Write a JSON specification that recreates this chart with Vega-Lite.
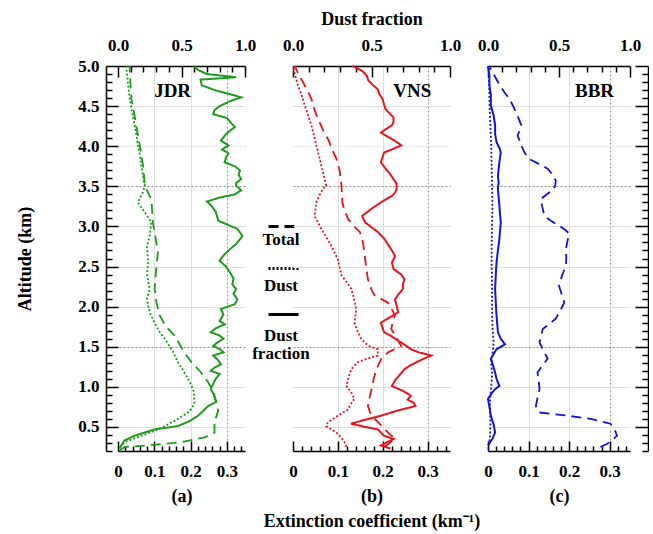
{
"$schema": "https://vega.github.io/schema/vega-lite/v6.json",
"padding": {"left": 16, "top": 10, "right": 0, "bottom": 4},
"bounds": "flush",
"spacing": 48,
"config": {
  "view": {"stroke": null},
  "font": "Liberation Serif",
  "axis": {"labelFont": "Liberation Serif", "labelFontWeight": "bold", "labelFontSize": 17, "labelColor": "black", "titleFont": "Liberation Serif", "titleFontWeight": "bold", "titleFontSize": 18, "titleColor": "black", "domainColor": "black", "tickColor": "black", "domainWidth": 1.5, "tickWidth": 1.5, "labelOverlap": false, "labelFlush": false, "labelBound": false}
},
"resolve": {"scale": {"strokeDash": "independent"}, "legend": {"strokeDash": "independent"}},
"datasets": {"d": [
{"p":"JDR","s":"Dust fraction","alt":5.00,"v":0.60},{"p":"JDR","s":"Dust fraction","alt":4.95,"v":0.63},{"p":"JDR","s":"Dust fraction","alt":4.90,"v":0.70},{"p":"JDR","s":"Dust fraction","alt":4.86,"v":0.93},{"p":"JDR","s":"Dust fraction","alt":4.83,"v":0.65},{"p":"JDR","s":"Dust fraction","alt":4.76,"v":0.66},{"p":"JDR","s":"Dust fraction","alt":4.70,"v":0.76},{"p":"JDR","s":"Dust fraction","alt":4.65,"v":0.88},{"p":"JDR","s":"Dust fraction","alt":4.61,"v":0.97},{"p":"JDR","s":"Dust fraction","alt":4.56,"v":0.88},{"p":"JDR","s":"Dust fraction","alt":4.50,"v":0.80},{"p":"JDR","s":"Dust fraction","alt":4.45,"v":0.76},{"p":"JDR","s":"Dust fraction","alt":4.40,"v":0.75},{"p":"JDR","s":"Dust fraction","alt":4.35,"v":0.86},{"p":"JDR","s":"Dust fraction","alt":4.29,"v":0.89},{"p":"JDR","s":"Dust fraction","alt":4.24,"v":0.92},{"p":"JDR","s":"Dust fraction","alt":4.19,"v":0.88},{"p":"JDR","s":"Dust fraction","alt":4.15,"v":0.85},{"p":"JDR","s":"Dust fraction","alt":4.07,"v":0.81},{"p":"JDR","s":"Dust fraction","alt":4.01,"v":0.87},{"p":"JDR","s":"Dust fraction","alt":3.96,"v":0.82},{"p":"JDR","s":"Dust fraction","alt":3.91,"v":0.87},{"p":"JDR","s":"Dust fraction","alt":3.86,"v":0.85},{"p":"JDR","s":"Dust fraction","alt":3.80,"v":0.84},{"p":"JDR","s":"Dust fraction","alt":3.75,"v":0.92},{"p":"JDR","s":"Dust fraction","alt":3.70,"v":0.96},{"p":"JDR","s":"Dust fraction","alt":3.64,"v":0.95},{"p":"JDR","s":"Dust fraction","alt":3.59,"v":0.97},{"p":"JDR","s":"Dust fraction","alt":3.54,"v":0.93},{"p":"JDR","s":"Dust fraction","alt":3.51,"v":0.93},{"p":"JDR","s":"Dust fraction","alt":3.45,"v":0.97},{"p":"JDR","s":"Dust fraction","alt":3.40,"v":0.92},{"p":"JDR","s":"Dust fraction","alt":3.36,"v":0.80},{"p":"JDR","s":"Dust fraction","alt":3.31,"v":0.70},{"p":"JDR","s":"Dust fraction","alt":3.25,"v":0.74},{"p":"JDR","s":"Dust fraction","alt":3.18,"v":0.77},{"p":"JDR","s":"Dust fraction","alt":3.07,"v":0.79},{"p":"JDR","s":"Dust fraction","alt":3.01,"v":0.88},{"p":"JDR","s":"Dust fraction","alt":2.97,"v":0.94},{"p":"JDR","s":"Dust fraction","alt":2.88,"v":0.98},{"p":"JDR","s":"Dust fraction","alt":2.82,"v":0.95},{"p":"JDR","s":"Dust fraction","alt":2.78,"v":0.93},{"p":"JDR","s":"Dust fraction","alt":2.70,"v":0.87},{"p":"JDR","s":"Dust fraction","alt":2.62,"v":0.82},{"p":"JDR","s":"Dust fraction","alt":2.57,"v":0.80},{"p":"JDR","s":"Dust fraction","alt":2.50,"v":0.85},{"p":"JDR","s":"Dust fraction","alt":2.43,"v":0.88},{"p":"JDR","s":"Dust fraction","alt":2.35,"v":0.91},{"p":"JDR","s":"Dust fraction","alt":2.28,"v":0.90},{"p":"JDR","s":"Dust fraction","alt":2.22,"v":0.93},{"p":"JDR","s":"Dust fraction","alt":2.16,"v":0.91},{"p":"JDR","s":"Dust fraction","alt":2.09,"v":0.94},{"p":"JDR","s":"Dust fraction","alt":2.03,"v":0.92},{"p":"JDR","s":"Dust fraction","alt":1.97,"v":0.81},{"p":"JDR","s":"Dust fraction","alt":1.90,"v":0.83},{"p":"JDR","s":"Dust fraction","alt":1.82,"v":0.80},{"p":"JDR","s":"Dust fraction","alt":1.78,"v":0.84},{"p":"JDR","s":"Dust fraction","alt":1.73,"v":0.77},{"p":"JDR","s":"Dust fraction","alt":1.68,"v":0.73},{"p":"JDR","s":"Dust fraction","alt":1.64,"v":0.80},{"p":"JDR","s":"Dust fraction","alt":1.60,"v":0.83},{"p":"JDR","s":"Dust fraction","alt":1.55,"v":0.78},{"p":"JDR","s":"Dust fraction","alt":1.51,"v":0.75},{"p":"JDR","s":"Dust fraction","alt":1.47,"v":0.80},{"p":"JDR","s":"Dust fraction","alt":1.43,"v":0.83},{"p":"JDR","s":"Dust fraction","alt":1.39,"v":0.75},{"p":"JDR","s":"Dust fraction","alt":1.33,"v":0.79},{"p":"JDR","s":"Dust fraction","alt":1.28,"v":0.81},{"p":"JDR","s":"Dust fraction","alt":1.24,"v":0.76},{"p":"JDR","s":"Dust fraction","alt":1.20,"v":0.73},{"p":"JDR","s":"Dust fraction","alt":1.16,"v":0.80},{"p":"JDR","s":"Dust fraction","alt":1.10,"v":0.77},{"p":"JDR","s":"Dust fraction","alt":1.04,"v":0.75},{"p":"JDR","s":"Dust fraction","alt":0.97,"v":0.73},{"p":"JDR","s":"Dust fraction","alt":0.92,"v":0.75},{"p":"JDR","s":"Dust fraction","alt":0.87,"v":0.76},{"p":"JDR","s":"Dust fraction","alt":0.81,"v":0.77},{"p":"JDR","s":"Dust fraction","alt":0.76,"v":0.71},{"p":"JDR","s":"Dust fraction","alt":0.70,"v":0.67},{"p":"JDR","s":"Dust fraction","alt":0.64,"v":0.63},{"p":"JDR","s":"Dust fraction","alt":0.57,"v":0.56},{"p":"JDR","s":"Dust fraction","alt":0.51,"v":0.47},{"p":"JDR","s":"Dust fraction","alt":0.47,"v":0.29},{"p":"JDR","s":"Dust fraction","alt":0.43,"v":0.21},{"p":"JDR","s":"Dust fraction","alt":0.39,"v":0.13},{"p":"JDR","s":"Dust fraction","alt":0.33,"v":0.05},{"p":"JDR","s":"Dust fraction","alt":0.28,"v":0.03},{"p":"JDR","s":"Dust fraction","alt":0.23,"v":0.01},
{"p":"JDR","s":"Total","alt":5.00,"v":0.032},{"p":"JDR","s":"Total","alt":4.80,"v":0.034},{"p":"JDR","s":"Total","alt":4.59,"v":0.037},{"p":"JDR","s":"Total","alt":4.40,"v":0.045},{"p":"JDR","s":"Total","alt":4.26,"v":0.050},{"p":"JDR","s":"Total","alt":4.01,"v":0.060},{"p":"JDR","s":"Total","alt":3.90,"v":0.064},{"p":"JDR","s":"Total","alt":3.76,"v":0.069},{"p":"JDR","s":"Total","alt":3.51,"v":0.074},{"p":"JDR","s":"Total","alt":3.40,"v":0.085},{"p":"JDR","s":"Total","alt":3.34,"v":0.092},{"p":"JDR","s":"Total","alt":3.20,"v":0.094},{"p":"JDR","s":"Total","alt":3.05,"v":0.096},{"p":"JDR","s":"Total","alt":2.90,"v":0.102},{"p":"JDR","s":"Total","alt":2.68,"v":0.110},{"p":"JDR","s":"Total","alt":2.50,"v":0.106},{"p":"JDR","s":"Total","alt":2.35,"v":0.103},{"p":"JDR","s":"Total","alt":2.22,"v":0.101},{"p":"JDR","s":"Total","alt":2.05,"v":0.106},{"p":"JDR","s":"Total","alt":1.89,"v":0.115},{"p":"JDR","s":"Total","alt":1.75,"v":0.132},{"p":"JDR","s":"Total","alt":1.64,"v":0.156},{"p":"JDR","s":"Total","alt":1.45,"v":0.180},{"p":"JDR","s":"Total","alt":1.31,"v":0.202},{"p":"JDR","s":"Total","alt":1.20,"v":0.225},{"p":"JDR","s":"Total","alt":1.06,"v":0.248},{"p":"JDR","s":"Total","alt":0.95,"v":0.262},{"p":"JDR","s":"Total","alt":0.81,"v":0.271},{"p":"JDR","s":"Total","alt":0.70,"v":0.276},{"p":"JDR","s":"Total","alt":0.56,"v":0.266},{"p":"JDR","s":"Total","alt":0.43,"v":0.266},{"p":"JDR","s":"Total","alt":0.37,"v":0.239},{"p":"JDR","s":"Total","alt":0.31,"v":0.174},{"p":"JDR","s":"Total","alt":0.27,"v":0.083},{"p":"JDR","s":"Total","alt":0.25,"v":0.018},{"p":"JDR","s":"Total","alt":0.21,"v":0.005},
{"p":"JDR","s":"Dust","alt":5.00,"v":0.023},{"p":"JDR","s":"Dust","alt":4.80,"v":0.027},{"p":"JDR","s":"Dust","alt":4.59,"v":0.032},{"p":"JDR","s":"Dust","alt":4.40,"v":0.040},{"p":"JDR","s":"Dust","alt":4.26,"v":0.046},{"p":"JDR","s":"Dust","alt":4.10,"v":0.052},{"p":"JDR","s":"Dust","alt":4.01,"v":0.055},{"p":"JDR","s":"Dust","alt":3.90,"v":0.060},{"p":"JDR","s":"Dust","alt":3.76,"v":0.064},{"p":"JDR","s":"Dust","alt":3.60,"v":0.070},{"p":"JDR","s":"Dust","alt":3.51,"v":0.074},{"p":"JDR","s":"Dust","alt":3.42,"v":0.068},{"p":"JDR","s":"Dust","alt":3.30,"v":0.055},{"p":"JDR","s":"Dust","alt":3.20,"v":0.070},{"p":"JDR","s":"Dust","alt":3.10,"v":0.085},{"p":"JDR","s":"Dust","alt":3.05,"v":0.092},{"p":"JDR","s":"Dust","alt":2.90,"v":0.088},{"p":"JDR","s":"Dust","alt":2.75,"v":0.080},{"p":"JDR","s":"Dust","alt":2.55,"v":0.083},{"p":"JDR","s":"Dust","alt":2.40,"v":0.080},{"p":"JDR","s":"Dust","alt":2.22,"v":0.087},{"p":"JDR","s":"Dust","alt":2.10,"v":0.080},{"p":"JDR","s":"Dust","alt":2.01,"v":0.083},{"p":"JDR","s":"Dust","alt":1.90,"v":0.090},{"p":"JDR","s":"Dust","alt":1.80,"v":0.101},{"p":"JDR","s":"Dust","alt":1.70,"v":0.112},{"p":"JDR","s":"Dust","alt":1.60,"v":0.129},{"p":"JDR","s":"Dust","alt":1.45,"v":0.150},{"p":"JDR","s":"Dust","alt":1.31,"v":0.165},{"p":"JDR","s":"Dust","alt":1.20,"v":0.180},{"p":"JDR","s":"Dust","alt":1.06,"v":0.198},{"p":"JDR","s":"Dust","alt":0.95,"v":0.208},{"p":"JDR","s":"Dust","alt":0.81,"v":0.211},{"p":"JDR","s":"Dust","alt":0.74,"v":0.205},{"p":"JDR","s":"Dust","alt":0.68,"v":0.193},{"p":"JDR","s":"Dust","alt":0.60,"v":0.165},{"p":"JDR","s":"Dust","alt":0.51,"v":0.129},{"p":"JDR","s":"Dust","alt":0.45,"v":0.100},{"p":"JDR","s":"Dust","alt":0.39,"v":0.064},{"p":"JDR","s":"Dust","alt":0.31,"v":0.018},{"p":"JDR","s":"Dust","alt":0.25,"v":0.005},
{"p":"VNS","s":"Dust fraction","alt":5.00,"v":0.38},{"p":"VNS","s":"Dust fraction","alt":4.94,"v":0.44},{"p":"VNS","s":"Dust fraction","alt":4.88,"v":0.47},{"p":"VNS","s":"Dust fraction","alt":4.82,"v":0.48},{"p":"VNS","s":"Dust fraction","alt":4.76,"v":0.51},{"p":"VNS","s":"Dust fraction","alt":4.71,"v":0.54},{"p":"VNS","s":"Dust fraction","alt":4.65,"v":0.55},{"p":"VNS","s":"Dust fraction","alt":4.59,"v":0.57},{"p":"VNS","s":"Dust fraction","alt":4.52,"v":0.58},{"p":"VNS","s":"Dust fraction","alt":4.46,"v":0.59},{"p":"VNS","s":"Dust fraction","alt":4.40,"v":0.62},{"p":"VNS","s":"Dust fraction","alt":4.36,"v":0.64},{"p":"VNS","s":"Dust fraction","alt":4.30,"v":0.64},{"p":"VNS","s":"Dust fraction","alt":4.26,"v":0.63},{"p":"VNS","s":"Dust fraction","alt":4.21,"v":0.59},{"p":"VNS","s":"Dust fraction","alt":4.17,"v":0.56},{"p":"VNS","s":"Dust fraction","alt":4.10,"v":0.62},{"p":"VNS","s":"Dust fraction","alt":4.04,"v":0.67},{"p":"VNS","s":"Dust fraction","alt":4.01,"v":0.69},{"p":"VNS","s":"Dust fraction","alt":3.96,"v":0.63},{"p":"VNS","s":"Dust fraction","alt":3.92,"v":0.58},{"p":"VNS","s":"Dust fraction","alt":3.86,"v":0.57},{"p":"VNS","s":"Dust fraction","alt":3.80,"v":0.56},{"p":"VNS","s":"Dust fraction","alt":3.72,"v":0.59},{"p":"VNS","s":"Dust fraction","alt":3.65,"v":0.62},{"p":"VNS","s":"Dust fraction","alt":3.59,"v":0.64},{"p":"VNS","s":"Dust fraction","alt":3.53,"v":0.66},{"p":"VNS","s":"Dust fraction","alt":3.47,"v":0.66},{"p":"VNS","s":"Dust fraction","alt":3.42,"v":0.65},{"p":"VNS","s":"Dust fraction","alt":3.38,"v":0.63},{"p":"VNS","s":"Dust fraction","alt":3.30,"v":0.56},{"p":"VNS","s":"Dust fraction","alt":3.22,"v":0.50},{"p":"VNS","s":"Dust fraction","alt":3.13,"v":0.44},{"p":"VNS","s":"Dust fraction","alt":3.05,"v":0.46},{"p":"VNS","s":"Dust fraction","alt":2.99,"v":0.50},{"p":"VNS","s":"Dust fraction","alt":2.93,"v":0.54},{"p":"VNS","s":"Dust fraction","alt":2.85,"v":0.58},{"p":"VNS","s":"Dust fraction","alt":2.76,"v":0.61},{"p":"VNS","s":"Dust fraction","alt":2.70,"v":0.63},{"p":"VNS","s":"Dust fraction","alt":2.63,"v":0.65},{"p":"VNS","s":"Dust fraction","alt":2.55,"v":0.63},{"p":"VNS","s":"Dust fraction","alt":2.47,"v":0.64},{"p":"VNS","s":"Dust fraction","alt":2.40,"v":0.69},{"p":"VNS","s":"Dust fraction","alt":2.34,"v":0.71},{"p":"VNS","s":"Dust fraction","alt":2.28,"v":0.70},{"p":"VNS","s":"Dust fraction","alt":2.22,"v":0.70},{"p":"VNS","s":"Dust fraction","alt":2.15,"v":0.67},{"p":"VNS","s":"Dust fraction","alt":2.09,"v":0.65},{"p":"VNS","s":"Dust fraction","alt":2.01,"v":0.66},{"p":"VNS","s":"Dust fraction","alt":1.93,"v":0.67},{"p":"VNS","s":"Dust fraction","alt":1.87,"v":0.62},{"p":"VNS","s":"Dust fraction","alt":1.80,"v":0.56},{"p":"VNS","s":"Dust fraction","alt":1.74,"v":0.57},{"p":"VNS","s":"Dust fraction","alt":1.68,"v":0.58},{"p":"VNS","s":"Dust fraction","alt":1.64,"v":0.62},{"p":"VNS","s":"Dust fraction","alt":1.60,"v":0.65},{"p":"VNS","s":"Dust fraction","alt":1.54,"v":0.70},{"p":"VNS","s":"Dust fraction","alt":1.47,"v":0.75},{"p":"VNS","s":"Dust fraction","alt":1.43,"v":0.80},{"p":"VNS","s":"Dust fraction","alt":1.39,"v":0.88},{"p":"VNS","s":"Dust fraction","alt":1.33,"v":0.81},{"p":"VNS","s":"Dust fraction","alt":1.27,"v":0.75},{"p":"VNS","s":"Dust fraction","alt":1.22,"v":0.71},{"p":"VNS","s":"Dust fraction","alt":1.15,"v":0.68},{"p":"VNS","s":"Dust fraction","alt":1.08,"v":0.65},{"p":"VNS","s":"Dust fraction","alt":1.01,"v":0.63},{"p":"VNS","s":"Dust fraction","alt":0.95,"v":0.70},{"p":"VNS","s":"Dust fraction","alt":0.89,"v":0.75},{"p":"VNS","s":"Dust fraction","alt":0.84,"v":0.73},{"p":"VNS","s":"Dust fraction","alt":0.80,"v":0.77},{"p":"VNS","s":"Dust fraction","alt":0.76,"v":0.78},{"p":"VNS","s":"Dust fraction","alt":0.70,"v":0.66},{"p":"VNS","s":"Dust fraction","alt":0.64,"v":0.56},{"p":"VNS","s":"Dust fraction","alt":0.59,"v":0.46},{"p":"VNS","s":"Dust fraction","alt":0.54,"v":0.37},{"p":"VNS","s":"Dust fraction","alt":0.50,"v":0.46},{"p":"VNS","s":"Dust fraction","alt":0.47,"v":0.54},{"p":"VNS","s":"Dust fraction","alt":0.43,"v":0.56},{"p":"VNS","s":"Dust fraction","alt":0.39,"v":0.58},{"p":"VNS","s":"Dust fraction","alt":0.35,"v":0.64},{"p":"VNS","s":"Dust fraction","alt":0.31,"v":0.60},{"p":"VNS","s":"Dust fraction","alt":0.27,"v":0.56},{"p":"VNS","s":"Dust fraction","alt":0.23,"v":0.62},
{"p":"VNS","s":"Total","alt":5.00,"v":0.004},{"p":"VNS","s":"Total","alt":4.90,"v":0.012},{"p":"VNS","s":"Total","alt":4.80,"v":0.022},{"p":"VNS","s":"Total","alt":4.70,"v":0.032},{"p":"VNS","s":"Total","alt":4.59,"v":0.041},{"p":"VNS","s":"Total","alt":4.45,"v":0.048},{"p":"VNS","s":"Total","alt":4.34,"v":0.056},{"p":"VNS","s":"Total","alt":4.20,"v":0.067},{"p":"VNS","s":"Total","alt":4.09,"v":0.078},{"p":"VNS","s":"Total","alt":3.95,"v":0.088},{"p":"VNS","s":"Total","alt":3.84,"v":0.097},{"p":"VNS","s":"Total","alt":3.70,"v":0.104},{"p":"VNS","s":"Total","alt":3.51,"v":0.108},{"p":"VNS","s":"Total","alt":3.30,"v":0.110},{"p":"VNS","s":"Total","alt":3.20,"v":0.115},{"p":"VNS","s":"Total","alt":3.09,"v":0.123},{"p":"VNS","s":"Total","alt":2.98,"v":0.140},{"p":"VNS","s":"Total","alt":2.93,"v":0.149},{"p":"VNS","s":"Total","alt":2.80,"v":0.156},{"p":"VNS","s":"Total","alt":2.63,"v":0.160},{"p":"VNS","s":"Total","alt":2.50,"v":0.163},{"p":"VNS","s":"Total","alt":2.34,"v":0.167},{"p":"VNS","s":"Total","alt":2.20,"v":0.176},{"p":"VNS","s":"Total","alt":2.14,"v":0.182},{"p":"VNS","s":"Total","alt":2.05,"v":0.212},{"p":"VNS","s":"Total","alt":1.95,"v":0.222},{"p":"VNS","s":"Total","alt":1.89,"v":0.227},{"p":"VNS","s":"Total","alt":1.80,"v":0.222},{"p":"VNS","s":"Total","alt":1.72,"v":0.219},{"p":"VNS","s":"Total","alt":1.62,"v":0.230},{"p":"VNS","s":"Total","alt":1.51,"v":0.241},{"p":"VNS","s":"Total","alt":1.43,"v":0.212},{"p":"VNS","s":"Total","alt":1.35,"v":0.197},{"p":"VNS","s":"Total","alt":1.22,"v":0.186},{"p":"VNS","s":"Total","alt":1.10,"v":0.180},{"p":"VNS","s":"Total","alt":0.97,"v":0.175},{"p":"VNS","s":"Total","alt":0.85,"v":0.170},{"p":"VNS","s":"Total","alt":0.76,"v":0.167},{"p":"VNS","s":"Total","alt":0.68,"v":0.172},{"p":"VNS","s":"Total","alt":0.60,"v":0.182},{"p":"VNS","s":"Total","alt":0.50,"v":0.200},{"p":"VNS","s":"Total","alt":0.43,"v":0.212},{"p":"VNS","s":"Total","alt":0.35,"v":0.227},{"p":"VNS","s":"Total","alt":0.30,"v":0.215},{"p":"VNS","s":"Total","alt":0.25,"v":0.204},
{"p":"VNS","s":"Dust","alt":5.00,"v":0.000},{"p":"VNS","s":"Dust","alt":4.88,"v":0.005},{"p":"VNS","s":"Dust","alt":4.76,"v":0.011},{"p":"VNS","s":"Dust","alt":4.64,"v":0.019},{"p":"VNS","s":"Dust","alt":4.51,"v":0.026},{"p":"VNS","s":"Dust","alt":4.38,"v":0.034},{"p":"VNS","s":"Dust","alt":4.26,"v":0.041},{"p":"VNS","s":"Dust","alt":4.13,"v":0.047},{"p":"VNS","s":"Dust","alt":4.01,"v":0.052},{"p":"VNS","s":"Dust","alt":3.88,"v":0.058},{"p":"VNS","s":"Dust","alt":3.76,"v":0.063},{"p":"VNS","s":"Dust","alt":3.63,"v":0.069},{"p":"VNS","s":"Dust","alt":3.51,"v":0.074},{"p":"VNS","s":"Dust","alt":3.47,"v":0.067},{"p":"VNS","s":"Dust","alt":3.38,"v":0.058},{"p":"VNS","s":"Dust","alt":3.30,"v":0.052},{"p":"VNS","s":"Dust","alt":3.13,"v":0.048},{"p":"VNS","s":"Dust","alt":2.97,"v":0.063},{"p":"VNS","s":"Dust","alt":2.86,"v":0.075},{"p":"VNS","s":"Dust","alt":2.76,"v":0.085},{"p":"VNS","s":"Dust","alt":2.67,"v":0.093},{"p":"VNS","s":"Dust","alt":2.59,"v":0.100},{"p":"VNS","s":"Dust","alt":2.49,"v":0.104},{"p":"VNS","s":"Dust","alt":2.39,"v":0.108},{"p":"VNS","s":"Dust","alt":2.30,"v":0.120},{"p":"VNS","s":"Dust","alt":2.22,"v":0.130},{"p":"VNS","s":"Dust","alt":2.10,"v":0.136},{"p":"VNS","s":"Dust","alt":1.97,"v":0.141},{"p":"VNS","s":"Dust","alt":1.88,"v":0.139},{"p":"VNS","s":"Dust","alt":1.80,"v":0.137},{"p":"VNS","s":"Dust","alt":1.68,"v":0.145},{"p":"VNS","s":"Dust","alt":1.60,"v":0.152},{"p":"VNS","s":"Dust","alt":1.55,"v":0.160},{"p":"VNS","s":"Dust","alt":1.50,"v":0.172},{"p":"VNS","s":"Dust","alt":1.47,"v":0.189},{"p":"VNS","s":"Dust","alt":1.39,"v":0.189},{"p":"VNS","s":"Dust","alt":1.35,"v":0.165},{"p":"VNS","s":"Dust","alt":1.31,"v":0.145},{"p":"VNS","s":"Dust","alt":1.22,"v":0.130},{"p":"VNS","s":"Dust","alt":1.12,"v":0.124},{"p":"VNS","s":"Dust","alt":1.01,"v":0.119},{"p":"VNS","s":"Dust","alt":0.93,"v":0.130},{"p":"VNS","s":"Dust","alt":0.85,"v":0.137},{"p":"VNS","s":"Dust","alt":0.78,"v":0.128},{"p":"VNS","s":"Dust","alt":0.72,"v":0.123},{"p":"VNS","s":"Dust","alt":0.64,"v":0.100},{"p":"VNS","s":"Dust","alt":0.56,"v":0.078},{"p":"VNS","s":"Dust","alt":0.51,"v":0.074},{"p":"VNS","s":"Dust","alt":0.47,"v":0.085},{"p":"VNS","s":"Dust","alt":0.43,"v":0.097},{"p":"VNS","s":"Dust","alt":0.37,"v":0.107},{"p":"VNS","s":"Dust","alt":0.31,"v":0.115},{"p":"VNS","s":"Dust","alt":0.25,"v":0.119},
{"p":"BBR","s":"Dust fraction","alt":5.00,"v":0.00},{"p":"BBR","s":"Dust fraction","alt":4.88,"v":0.01},{"p":"BBR","s":"Dust fraction","alt":4.76,"v":0.01},{"p":"BBR","s":"Dust fraction","alt":4.64,"v":0.02},{"p":"BBR","s":"Dust fraction","alt":4.51,"v":0.02},{"p":"BBR","s":"Dust fraction","alt":4.38,"v":0.04},{"p":"BBR","s":"Dust fraction","alt":4.26,"v":0.05},{"p":"BBR","s":"Dust fraction","alt":4.15,"v":0.05},{"p":"BBR","s":"Dust fraction","alt":4.05,"v":0.06},{"p":"BBR","s":"Dust fraction","alt":3.98,"v":0.08},{"p":"BBR","s":"Dust fraction","alt":3.92,"v":0.09},{"p":"BBR","s":"Dust fraction","alt":3.86,"v":0.085},{"p":"BBR","s":"Dust fraction","alt":3.80,"v":0.08},{"p":"BBR","s":"Dust fraction","alt":3.72,"v":0.075},{"p":"BBR","s":"Dust fraction","alt":3.63,"v":0.07},{"p":"BBR","s":"Dust fraction","alt":3.55,"v":0.075},{"p":"BBR","s":"Dust fraction","alt":3.47,"v":0.07},{"p":"BBR","s":"Dust fraction","alt":3.36,"v":0.075},{"p":"BBR","s":"Dust fraction","alt":3.26,"v":0.08},{"p":"BBR","s":"Dust fraction","alt":3.15,"v":0.085},{"p":"BBR","s":"Dust fraction","alt":3.05,"v":0.09},{"p":"BBR","s":"Dust fraction","alt":2.95,"v":0.085},{"p":"BBR","s":"Dust fraction","alt":2.84,"v":0.08},{"p":"BBR","s":"Dust fraction","alt":2.70,"v":0.07},{"p":"BBR","s":"Dust fraction","alt":2.55,"v":0.06},{"p":"BBR","s":"Dust fraction","alt":2.40,"v":0.055},{"p":"BBR","s":"Dust fraction","alt":2.22,"v":0.05},{"p":"BBR","s":"Dust fraction","alt":2.05,"v":0.055},{"p":"BBR","s":"Dust fraction","alt":1.89,"v":0.06},{"p":"BBR","s":"Dust fraction","alt":1.78,"v":0.065},{"p":"BBR","s":"Dust fraction","alt":1.68,"v":0.07},{"p":"BBR","s":"Dust fraction","alt":1.60,"v":0.09},{"p":"BBR","s":"Dust fraction","alt":1.53,"v":0.12},{"p":"BBR","s":"Dust fraction","alt":1.47,"v":0.06},{"p":"BBR","s":"Dust fraction","alt":1.41,"v":0.04},{"p":"BBR","s":"Dust fraction","alt":1.35,"v":0.02},{"p":"BBR","s":"Dust fraction","alt":1.27,"v":0.035},{"p":"BBR","s":"Dust fraction","alt":1.18,"v":0.05},{"p":"BBR","s":"Dust fraction","alt":1.10,"v":0.06},{"p":"BBR","s":"Dust fraction","alt":1.01,"v":0.08},{"p":"BBR","s":"Dust fraction","alt":0.97,"v":0.05},{"p":"BBR","s":"Dust fraction","alt":0.93,"v":0.03},{"p":"BBR","s":"Dust fraction","alt":0.85,"v":0.00},{"p":"BBR","s":"Dust fraction","alt":0.75,"v":0.01},{"p":"BBR","s":"Dust fraction","alt":0.64,"v":0.02},{"p":"BBR","s":"Dust fraction","alt":0.53,"v":0.04},{"p":"BBR","s":"Dust fraction","alt":0.43,"v":0.05},{"p":"BBR","s":"Dust fraction","alt":0.35,"v":0.03},{"p":"BBR","s":"Dust fraction","alt":0.27,"v":0.00},
{"p":"BBR","s":"Total","alt":4.98,"v":0.005},{"p":"BBR","s":"Total","alt":4.86,"v":0.018},{"p":"BBR","s":"Total","alt":4.76,"v":0.029},{"p":"BBR","s":"Total","alt":4.66,"v":0.042},{"p":"BBR","s":"Total","alt":4.59,"v":0.053},{"p":"BBR","s":"Total","alt":4.50,"v":0.062},{"p":"BBR","s":"Total","alt":4.42,"v":0.069},{"p":"BBR","s":"Total","alt":4.34,"v":0.076},{"p":"BBR","s":"Total","alt":4.26,"v":0.082},{"p":"BBR","s":"Total","alt":4.20,"v":0.078},{"p":"BBR","s":"Total","alt":4.13,"v":0.073},{"p":"BBR","s":"Total","alt":4.07,"v":0.078},{"p":"BBR","s":"Total","alt":4.01,"v":0.082},{"p":"BBR","s":"Total","alt":3.92,"v":0.090},{"p":"BBR","s":"Total","alt":3.84,"v":0.102},{"p":"BBR","s":"Total","alt":3.78,"v":0.125},{"p":"BBR","s":"Total","alt":3.72,"v":0.147},{"p":"BBR","s":"Total","alt":3.64,"v":0.160},{"p":"BBR","s":"Total","alt":3.57,"v":0.167},{"p":"BBR","s":"Total","alt":3.52,"v":0.166},{"p":"BBR","s":"Total","alt":3.47,"v":0.163},{"p":"BBR","s":"Total","alt":3.42,"v":0.150},{"p":"BBR","s":"Total","alt":3.38,"v":0.140},{"p":"BBR","s":"Total","alt":3.34,"v":0.130},{"p":"BBR","s":"Total","alt":3.24,"v":0.134},{"p":"BBR","s":"Total","alt":3.13,"v":0.139},{"p":"BBR","s":"Total","alt":3.07,"v":0.155},{"p":"BBR","s":"Total","alt":3.01,"v":0.175},{"p":"BBR","s":"Total","alt":2.95,"v":0.192},{"p":"BBR","s":"Total","alt":2.91,"v":0.200},{"p":"BBR","s":"Total","alt":2.82,"v":0.196},{"p":"BBR","s":"Total","alt":2.72,"v":0.192},{"p":"BBR","s":"Total","alt":2.61,"v":0.193},{"p":"BBR","s":"Total","alt":2.51,"v":0.192},{"p":"BBR","s":"Total","alt":2.38,"v":0.182},{"p":"BBR","s":"Total","alt":2.26,"v":0.175},{"p":"BBR","s":"Total","alt":2.15,"v":0.182},{"p":"BBR","s":"Total","alt":2.05,"v":0.188},{"p":"BBR","s":"Total","alt":1.95,"v":0.178},{"p":"BBR","s":"Total","alt":1.85,"v":0.167},{"p":"BBR","s":"Total","alt":1.78,"v":0.150},{"p":"BBR","s":"Total","alt":1.72,"v":0.135},{"p":"BBR","s":"Total","alt":1.62,"v":0.130},{"p":"BBR","s":"Total","alt":1.55,"v":0.127},{"p":"BBR","s":"Total","alt":1.45,"v":0.137},{"p":"BBR","s":"Total","alt":1.35,"v":0.147},{"p":"BBR","s":"Total","alt":1.26,"v":0.133},{"p":"BBR","s":"Total","alt":1.18,"v":0.122},{"p":"BBR","s":"Total","alt":1.07,"v":0.125},{"p":"BBR","s":"Total","alt":0.97,"v":0.127},{"p":"BBR","s":"Total","alt":0.86,"v":0.122},{"p":"BBR","s":"Total","alt":0.76,"v":0.118},{"p":"BBR","s":"Total","alt":0.68,"v":0.127},{"p":"BBR","s":"Total","alt":0.64,"v":0.196},{"p":"BBR","s":"Total","alt":0.60,"v":0.253},{"p":"BBR","s":"Total","alt":0.54,"v":0.302},{"p":"BBR","s":"Total","alt":0.47,"v":0.312},{"p":"BBR","s":"Total","alt":0.39,"v":0.318},{"p":"BBR","s":"Total","alt":0.33,"v":0.305},{"p":"BBR","s":"Total","alt":0.29,"v":0.294},{"p":"BBR","s":"Total","alt":0.25,"v":0.277},
{"p":"BBR","s":"Dust","alt":5.00,"v":0.002},{"p":"BBR","s":"Dust","alt":4.75,"v":0.003},{"p":"BBR","s":"Dust","alt":4.50,"v":0.004},{"p":"BBR","s":"Dust","alt":4.25,"v":0.006},{"p":"BBR","s":"Dust","alt":4.00,"v":0.008},{"p":"BBR","s":"Dust","alt":3.75,"v":0.009},{"p":"BBR","s":"Dust","alt":3.50,"v":0.010},{"p":"BBR","s":"Dust","alt":3.25,"v":0.011},{"p":"BBR","s":"Dust","alt":3.00,"v":0.010},{"p":"BBR","s":"Dust","alt":2.75,"v":0.009},{"p":"BBR","s":"Dust","alt":2.50,"v":0.009},{"p":"BBR","s":"Dust","alt":2.25,"v":0.010},{"p":"BBR","s":"Dust","alt":2.00,"v":0.010},{"p":"BBR","s":"Dust","alt":1.75,"v":0.011},{"p":"BBR","s":"Dust","alt":1.55,"v":0.014},{"p":"BBR","s":"Dust","alt":1.45,"v":0.012},{"p":"BBR","s":"Dust","alt":1.30,"v":0.008},{"p":"BBR","s":"Dust","alt":1.15,"v":0.010},{"p":"BBR","s":"Dust","alt":1.00,"v":0.008},{"p":"BBR","s":"Dust","alt":0.85,"v":0.005},{"p":"BBR","s":"Dust","alt":0.70,"v":0.005},{"p":"BBR","s":"Dust","alt":0.55,"v":0.006},{"p":"BBR","s":"Dust","alt":0.40,"v":0.005},{"p":"BBR","s":"Dust","alt":0.30,"v":0.003},{"p":"BBR","s":"Dust","alt":0.22,"v":0.001}
]},
"hconcat": [
 {
  "width": 127, "height": 385,
  "resolve": {"scale": {"x": "independent"}, "axis": {"x": "independent", "y": "independent"}},
  "layer": [
   {
    "data": {"name": "d"},
    "transform": [{"filter": "datum.p == 'JDR' && datum.s != 'Dust fraction'"}],
    "mark": {"type": "line", "color": "#1e9a1e", "strokeWidth": 1.8},
    "encoding": {
     "x": {"field": "v", "type": "quantitative", "scale": {"domain": [0, 0.35], "nice": false, "zero": false},
       "axis": {"orient": "bottom", "values": [0,0.02,0.04,0.06,0.08,0.1,0.12,0.14,0.16,0.18,0.2,0.22,0.24,0.26,0.28,0.3,0.32,0.34],
         "labelOverlap": false,
         "labelExpr": "abs(datum.value*10 - round(datum.value*10)) < 0.01 ? (datum.value == 0 ? '0' : format(datum.value, '.1f')) : ''",
         "tickSize": {"condition": {"test": "abs(datum.value*10 - round(datum.value*10)) < 0.01", "value": -10}, "value": -5},
         "labelPadding": 22, "title": "(a)", "titlePadding": 3,
         "grid": true, "gridColor": {"condition": {"test": "abs(datum.value - 0.3) < 0.001", "value": "#999999"}, "value": "#dddddd"},
         "gridDash": {"condition": {"test": "abs(datum.value - 0.3) < 0.001", "value": [2, 2]}, "value": []},
         "gridOpacity": {"condition": {"test": "datum.value > 0.05 && abs(datum.value*10 - round(datum.value*10)) < 0.01", "value": 1}, "value": 0}}},
     "y": {"field": "alt", "type": "quantitative", "scale": {"domain": [0.2, 5.0], "nice": false, "zero": false},
       "axis": {"orient": "left", "offset": 12, "labelOverlap": false, "grid": false,
         "values": [0.2,0.3,0.4,0.5,0.6,0.7,0.8,0.9,1.0,1.1,1.2,1.3,1.4,1.5,1.6,1.7,1.8,1.9,2.0,2.1,2.2,2.3,2.4,2.5,2.6,2.7,2.8,2.9,3.0,3.1,3.2,3.3,3.4,3.5,3.6,3.7,3.8,3.9,4.0,4.1,4.2,4.3,4.4,4.5,4.6,4.7,4.8,4.9,5.0],
         "labelExpr": "abs(datum.value*2 - round(datum.value*2)) < 0.01 ? format(datum.value, '.1f') : ''",
         "tickSize": {"condition": {"test": "abs(datum.value*2 - round(datum.value*2)) < 0.01", "value": -12}, "value": -6},
         "labelPadding": 19, "title": "Altitude (km)", "titlePadding": 43}},
     "strokeDash": {"field": "s", "type": "nominal",
       "scale": {"domain": ["Total", "Dust", "Dust fraction"], "range": [[10, 6], [2, 2], [1, 0]]},
       "legend": {"orient": "none", "legendX": 149, "legendY": 144, "title": null,
         "symbolType": "stroke", "symbolSize": 900, "symbolStrokeWidth": 3, "symbolStrokeColor": "black",
         "labelFont": "Liberation Serif", "labelFontWeight": "bold", "labelFontSize": 17, "labelColor": "black",
         "labelExpr": "datum.label == 'Dust fraction' ? ['Dust', 'fraction'] : datum.label",
         "rowPadding": 4,
         "encode": {"labels": {"update": {"align": {"value": "center"}, "dx": {"value": -23}, "dy": {"signal": "datum.label == 'Dust fraction' ? 21 : (datum.label == 'Dust' ? 17 : 13)"}, "lineHeight": {"value": 18}}}}}},
     "order": {"field": "alt", "type": "quantitative"}
    }
   },
   {
    "data": {"name": "d"},
    "transform": [{"filter": "datum.p == 'JDR' && datum.s == 'Dust fraction'"}],
    "mark": {"type": "line", "color": "#1e9a1e", "strokeWidth": 2},
    "encoding": {
     "x": {"field": "v", "type": "quantitative", "scale": {"domain": [0, 1], "nice": false, "zero": false},
       "axis": {"orient": "top", "values": [0,0.1,0.2,0.3,0.4,0.5,0.6,0.7,0.8,0.9,1.0], "labelOverlap": false,
         "labelExpr": "abs(datum.value*2 - round(datum.value*2)) < 0.01 ? format(datum.value, '.1f') : ''",
         "tickSize": {"condition": {"test": "abs(datum.value*2 - round(datum.value*2)) < 0.01", "value": -11}, "value": -6},
         "labelPadding": 23, "title": null, "grid": false}},
     "y": {"field": "alt", "type": "quantitative", "scale": {"domain": [0.2, 5.0], "nice": false, "zero": false},
       "axis": {"orient": "right", "domain": false, "ticks": false, "labels": false, "title": null,
         "values": [0.5,1.0,1.5,2.0,2.5,3.0,3.5,4.0,4.5],
         "grid": true,
         "gridColor": {"condition": {"test": "abs(datum.value - 1.5) < 0.01 || abs(datum.value - 3.5) < 0.01", "value": "#888888"}, "value": "#dddddd"},
         "gridDash": {"condition": {"test": "abs(datum.value - 1.5) < 0.01 || abs(datum.value - 3.5) < 0.01 || abs(datum.value - 4.0) < 0.01", "value": [2, 2]}, "value": []}}},
     "strokeDash": {"field": "s", "type": "nominal"},
     "order": {"field": "alt", "type": "quantitative"}
    }
   },
   {
    "data": {"values": [{}]},
    "mark": {"type": "text", "font": "Liberation Serif", "fontWeight": "bold", "fontSize": 19, "color": "black"},
    "encoding": {
     "x": {"datum": 0.43, "type": "quantitative", "scale": {"domain": [0, 1], "nice": false, "zero": false}, "axis": null},
     "y": {"datum": 4.69, "type": "quantitative", "axis": null},
     "text": {"value": "JDR"}
    }
   }
  ]
 },
 {
  "spacing": 38, "bounds": "flush",
  "resolve": {"scale": {"strokeDash": "independent"}, "legend": {"strokeDash": "independent"}},
  "hconcat": [
   {
    "width": 157, "height": 385,
    "resolve": {"scale": {"x": "independent"}, "axis": {"x": "independent"}},
    "layer": [
     {
      "data": {"name": "d"},
      "transform": [{"filter": "datum.p == 'VNS' && datum.s != 'Dust fraction'"}],
      "mark": {"type": "line", "color": "#e8141e", "strokeWidth": 1.8},
      "encoding": {
       "x": {"field": "v", "type": "quantitative", "scale": {"domain": [0, 0.35], "nice": false, "zero": false},
         "axis": {"orient": "bottom", "values": [0,0.02,0.04,0.06,0.08,0.1,0.12,0.14,0.16,0.18,0.2,0.22,0.24,0.26,0.28,0.3,0.32,0.34],
           "labelOverlap": false,
           "labelExpr": "abs(datum.value*10 - round(datum.value*10)) < 0.01 ? (datum.value == 0 ? '0' : format(datum.value, '.1f')) : ''",
           "tickSize": {"condition": {"test": "abs(datum.value*10 - round(datum.value*10)) < 0.01", "value": -10}, "value": -5},
           "labelPadding": 22, "title": ["(b)", "Extinction coefficient (km⁻¹)"], "titlePadding": 3, "titleLineHeight": 25,
           "grid": true, "gridColor": {"condition": {"test": "abs(datum.value - 0.3) < 0.001", "value": "#999999"}, "value": "#dddddd"},
           "gridDash": {"condition": {"test": "abs(datum.value - 0.3) < 0.001", "value": [2, 2]}, "value": []},
           "gridOpacity": {"condition": {"test": "datum.value > 0.05 && abs(datum.value*10 - round(datum.value*10)) < 0.01", "value": 1}, "value": 0}}},
       "y": {"field": "alt", "type": "quantitative", "scale": {"domain": [0.2, 5.0], "nice": false, "zero": false},
         "axis": {"orient": "left", "domain": false, "ticks": false, "labels": false, "title": null,
           "values": [0.5,1.0,1.5,2.0,2.5,3.0,3.5,4.0,4.5],
           "grid": true,
           "gridColor": {"condition": {"test": "abs(datum.value - 1.5) < 0.01 || abs(datum.value - 3.5) < 0.01", "value": "#888888"}, "value": "#dddddd"},
           "gridDash": {"condition": {"test": "abs(datum.value - 1.5) < 0.01 || abs(datum.value - 3.5) < 0.01 || abs(datum.value - 4.0) < 0.01", "value": [2, 2]}, "value": []}}},
       "strokeDash": {"field": "s", "type": "nominal",
         "scale": {"domain": ["Total", "Dust", "Dust fraction"], "range": [[10, 6], [2, 2], [1, 0]]}, "legend": null},
       "order": {"field": "alt", "type": "quantitative"}
      }
     },
     {
      "data": {"name": "d"},
      "transform": [{"filter": "datum.p == 'VNS' && datum.s == 'Dust fraction'"}],
      "mark": {"type": "line", "color": "#e8141e", "strokeWidth": 2},
      "encoding": {
       "x": {"field": "v", "type": "quantitative", "scale": {"domain": [0, 1], "nice": false, "zero": false},
         "axis": {"orient": "top", "values": [0,0.1,0.2,0.3,0.4,0.5,0.6,0.7,0.8,0.9,1.0], "labelOverlap": false,
           "labelExpr": "abs(datum.value*2 - round(datum.value*2)) < 0.01 ? format(datum.value, '.1f') : ''",
           "tickSize": {"condition": {"test": "abs(datum.value*2 - round(datum.value*2)) < 0.01", "value": -11}, "value": -6},
           "labelPadding": 23, "title": "Dust fraction", "titlePadding": 3, "grid": false}},
       "y": {"field": "alt", "type": "quantitative", "scale": {"domain": [0.2, 5.0], "nice": false, "zero": false}},
       "strokeDash": {"field": "s", "type": "nominal", "legend": null},
       "order": {"field": "alt", "type": "quantitative"}
      }
     },
     {
      "data": {"values": [{}]},
      "mark": {"type": "text", "font": "Liberation Serif", "fontWeight": "bold", "fontSize": 19, "color": "black"},
      "encoding": {
       "x": {"datum": 0.76, "type": "quantitative", "scale": {"domain": [0, 1], "nice": false, "zero": false}, "axis": null},
       "y": {"datum": 4.69, "type": "quantitative"},
       "text": {"value": "VNS"}
      }
     }
    ]
   },
   {
    "width": 142, "height": 385,
    "resolve": {"scale": {"x": "independent"}, "axis": {"x": "independent", "y": "independent"}},
    "layer": [
     {
      "data": {"name": "d"},
      "transform": [{"filter": "datum.p == 'BBR' && datum.s != 'Dust fraction'"}],
      "mark": {"type": "line", "color": "#1414d2", "strokeWidth": 1.8},
      "encoding": {
       "x": {"field": "v", "type": "quantitative", "scale": {"domain": [0, 0.35], "nice": false, "zero": false},
         "axis": {"orient": "bottom", "values": [0,0.02,0.04,0.06,0.08,0.1,0.12,0.14,0.16,0.18,0.2,0.22,0.24,0.26,0.28,0.3,0.32,0.34],
           "labelOverlap": false,
           "labelExpr": "abs(datum.value*10 - round(datum.value*10)) < 0.01 ? (datum.value == 0 ? '0' : format(datum.value, '.1f')) : ''",
           "tickSize": {"condition": {"test": "abs(datum.value*10 - round(datum.value*10)) < 0.01", "value": -10}, "value": -5},
           "labelPadding": 22, "title": "(c)", "titlePadding": 3,
           "grid": true, "gridColor": {"condition": {"test": "abs(datum.value - 0.3) < 0.001", "value": "#999999"}, "value": "#dddddd"},
           "gridDash": {"condition": {"test": "abs(datum.value - 0.3) < 0.001", "value": [2, 2]}, "value": []},
           "gridOpacity": {"condition": {"test": "datum.value > 0.05 && abs(datum.value*10 - round(datum.value*10)) < 0.01", "value": 1}, "value": 0}}},
       "y": {"field": "alt", "type": "quantitative", "scale": {"domain": [0.2, 5.0], "nice": false, "zero": false},
         "axis": {"orient": "right", "offset": 18, "labelOverlap": false, "grid": false,
           "values": [0.2,0.3,0.4,0.5,0.6,0.7,0.8,0.9,1.0,1.1,1.2,1.3,1.4,1.5,1.6,1.7,1.8,1.9,2.0,2.1,2.2,2.3,2.4,2.5,2.6,2.7,2.8,2.9,3.0,3.1,3.2,3.3,3.4,3.5,3.6,3.7,3.8,3.9,4.0,4.1,4.2,4.3,4.4,4.5,4.6,4.7,4.8,4.9,5.0],
           "labels": false, "title": null,
           "tickSize": {"condition": {"test": "abs(datum.value*2 - round(datum.value*2)) < 0.01", "value": -13}, "value": -6}}},
       "strokeDash": {"field": "s", "type": "nominal",
         "scale": {"domain": ["Total", "Dust", "Dust fraction"], "range": [[10, 6], [2, 2], [1, 0]]}, "legend": null},
       "order": {"field": "alt", "type": "quantitative"}
      }
     },
     {
      "data": {"name": "d"},
      "transform": [{"filter": "datum.p == 'BBR' && datum.s == 'Dust fraction'"}],
      "mark": {"type": "line", "color": "#1414d2", "strokeWidth": 2},
      "encoding": {
       "x": {"field": "v", "type": "quantitative", "scale": {"domain": [0, 1], "nice": false, "zero": false},
         "axis": {"orient": "top", "values": [0,0.1,0.2,0.3,0.4,0.5,0.6,0.7,0.8,0.9,1.0], "labelOverlap": false,
           "labelExpr": "abs(datum.value*2 - round(datum.value*2)) < 0.01 ? format(datum.value, '.1f') : ''",
           "tickSize": {"condition": {"test": "abs(datum.value*2 - round(datum.value*2)) < 0.01", "value": -11}, "value": -6},
           "labelPadding": 23, "title": null, "grid": false}},
       "y": {"field": "alt", "type": "quantitative", "scale": {"domain": [0.2, 5.0], "nice": false, "zero": false},
         "axis": {"orient": "left", "domain": false, "ticks": false, "labels": false, "title": null,
           "values": [0.5,1.0,1.5,2.0,2.5,3.0,3.5,4.0,4.5],
           "grid": true,
           "gridColor": {"condition": {"test": "abs(datum.value - 1.5) < 0.01 || abs(datum.value - 3.5) < 0.01", "value": "#888888"}, "value": "#dddddd"},
           "gridDash": {"condition": {"test": "abs(datum.value - 1.5) < 0.01 || abs(datum.value - 3.5) < 0.01 || abs(datum.value - 4.0) < 0.01", "value": [2, 2]}, "value": []}}},
       "strokeDash": {"field": "s", "type": "nominal", "legend": null},
       "order": {"field": "alt", "type": "quantitative"}
      }
     },
     {
      "data": {"values": [{}]},
      "mark": {"type": "text", "font": "Liberation Serif", "fontWeight": "bold", "fontSize": 19, "color": "black"},
      "encoding": {
       "x": {"datum": 0.75, "type": "quantitative", "scale": {"domain": [0, 1], "nice": false, "zero": false}, "axis": null},
       "y": {"datum": 4.69, "type": "quantitative", "axis": null},
       "text": {"value": "BBR"}
      }
     }
    ]
   }
  ]
 }
]
}
